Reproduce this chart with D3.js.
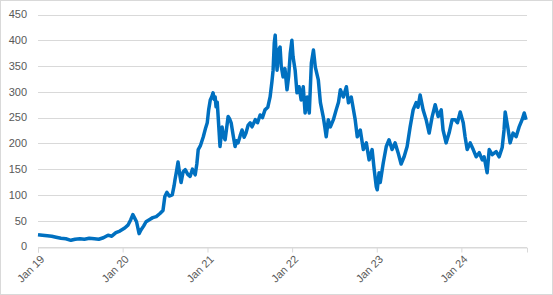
<!DOCTYPE html>
<html>
<head>
<meta charset="utf-8">
<script src="https://cdn.jsdelivr.net/npm/d3@7"></script>
<style>
  body { margin: 0; background: #fff; }
  svg { display: block; font-family: "Liberation Sans", Arial, sans-serif; }
</style>
</head>
<body>
<div id="chart"></div>
<script>
// observed series (date, value)
var dates = [
  "2019-01-01","2019-01-20","2019-02-10","2019-03-01","2019-03-20","2019-04-10","2019-05-01","2019-05-23",
  "2019-06-10","2019-07-01","2019-07-20","2019-08-10","2019-09-01","2019-09-20","2019-10-10","2019-10-30",
  "2019-11-15","2019-12-03","2019-12-20","2020-01-10","2020-01-25","2020-02-05","2020-02-14","2020-02-22",
  "2020-03-01","2020-03-12","2020-03-20","2020-04-01","2020-04-11","2020-04-25","2020-05-10","2020-05-25",
  "2020-06-10","2020-06-23","2020-07-01","2020-07-10","2020-07-20","2020-08-02","2020-08-10","2020-08-14",
  "2020-08-20","2020-08-27","2020-09-03","2020-09-09","2020-09-18","2020-09-27","2020-10-08","2020-10-18",
  "2020-10-28","2020-11-09","2020-11-16","2020-11-22","2020-12-01","2020-12-14","2020-12-24","2020-12-31",
  "2021-01-06","2021-01-13","2021-01-19","2021-01-25","2021-01-30","2021-02-03","2021-02-07","2021-02-12",
  "2021-02-16","2021-02-24","2021-03-05","2021-03-10","2021-03-18","2021-03-31","2021-04-06","2021-04-13",
  "2021-04-22","2021-04-30","2021-05-06","2021-05-13","2021-05-22","2021-05-30","2021-06-08","2021-06-16",
  "2021-06-25","2021-07-04","2021-07-12","2021-07-26","2021-08-05","2021-08-16","2021-08-26","2021-09-06",
  "2021-09-18","2021-09-28","2021-10-06","2021-10-11","2021-10-16","2021-10-20","2021-10-24","2021-10-28",
  "2021-11-03","2021-11-10","2021-11-15","2021-11-23","2021-12-01","2021-12-10","2021-12-17","2021-12-24",
  "2021-12-31","2022-01-05","2022-01-14","2022-01-22","2022-01-31","2022-02-09","2022-02-18","2022-02-26",
  "2022-03-07","2022-03-16","2022-03-25","2022-04-03","2022-04-11","2022-04-24","2022-05-03","2022-05-15",
  "2022-05-22","2022-05-28","2022-06-06","2022-06-15","2022-06-28","2022-07-10","2022-07-20","2022-07-28",
  "2022-08-10","2022-08-23","2022-09-01","2022-09-13","2022-09-30","2022-10-09","2022-10-22","2022-11-04",
  "2022-11-17","2022-11-29","2022-12-12","2022-12-21","2022-12-30","2023-01-03","2023-01-11","2023-01-16",
  "2023-01-29","2023-02-11","2023-02-23","2023-03-08","2023-03-21","2023-04-03","2023-04-16","2023-04-29",
  "2023-05-12","2023-05-25","2023-06-07","2023-06-20","2023-06-28","2023-07-07","2023-07-20","2023-08-02",
  "2023-08-15","2023-08-28","2023-09-10","2023-09-23","2023-10-06","2023-10-14","2023-10-27","2023-11-09",
  "2023-11-22","2023-12-05","2023-12-15","2023-12-27","2024-01-09","2024-01-17","2024-01-26","2024-02-08",
  "2024-02-21","2024-03-05","2024-03-18","2024-03-31","2024-04-08","2024-04-21","2024-04-30","2024-05-13",
  "2024-05-30","2024-06-12","2024-06-25","2024-07-03","2024-07-08","2024-07-21","2024-07-29","2024-08-11",
  "2024-08-24","2024-09-06","2024-09-19","2024-09-28","2024-10-06"
];
var values = [
  23,22,21,20,18,16,15,12,
  14,15,14,16,15,14,17,22,
  20,27,30,36,42,52,62,55,
  48,25,32,40,48,52,56,58,
  64,70,97,105,98,100,118,130,
  145,164,140,124,145,149,140,136,
  150,139,160,188,195,213,230,240,
  265,284,290,298,285,290,271,280,
  252,194,232,215,207,252,248,240,
  215,194,205,201,215,226,212,220,
  235,240,232,246,240,255,250,265,
  270,290,320,342,395,410,370,342,
  380,387,350,329,345,304,330,375,
  400,368,342,298,310,284,310,259,
  290,259,356,381,348,323,279,252,
  232,213,246,232,246,265,280,304,
  290,310,279,290,246,213,226,188,
  201,168,188,149,116,110,143,124,
  162,194,207,188,201,182,160,174,
  194,232,265,279,270,294,265,246,
  220,252,275,252,265,226,201,220,
  246,246,240,261,240,213,188,201,
  188,174,182,168,174,143,188,178,
  184,174,192,226,261,226,201,220,
  213,232,246,259,246
];
var yTicks = [0, 50, 100, 150, 200, 250, 300, 350, 400, 450];
var xTickLabels = ["Jan 19", "Jan 20", "Jan 21", "Jan 22", "Jan 23", "Jan 24"];

var width = 553, height = 295;
var margin = {top: 14.5, right: 26, bottom: 48.5, left: 38};

var parse = d3.timeParse("%Y-%m-%d");
var data = dates.map(function(d, i) { return {date: parse(d), value: values[i]}; });
var tickDates = xTickLabels.map(function(d, i) { return new Date(2019 + i, 0, 1); });

var svg = d3.select("#chart")
  .append("svg")
    .attr("width", width)
    .attr("height", height);

// chart border
svg.append("rect")
  .attr("x", 0.5).attr("y", 0.5)
  .attr("width", width - 1).attr("height", height - 1)
  .attr("fill", "#fff")
  .attr("stroke", "#d9d9d9");

var x = d3.scaleTime()
  .domain([new Date(2019, 0, 1), new Date(2024, 9, 10)])
  .range([margin.left, width - margin.right]);

var y = d3.scaleLinear()
  .domain([0, 450])
  .range([height - margin.bottom, margin.top]);

// gridlines
svg.append("g")
  .selectAll("line")
  .data(yTicks)
  .enter()
  .append("line")
    .attr("x1", margin.left)
    .attr("x2", width - margin.right)
    .attr("y1", function(d) { return Math.round(y(d)) + 0.5; })
    .attr("y2", function(d) { return Math.round(y(d)) + 0.5; })
    .style("stroke", "#d9d9d9");

// y labels
svg.append("g")
  .selectAll("text")
  .data(yTicks)
  .enter()
  .append("text")
    .attr("x", 27)
    .attr("y", function(d) { return y(d); })
    .attr("dy", "0.35em")
    .attr("text-anchor", "end")
    .style("fill", "#595959")
    .style("font-size", "11px")
    .text(function(d) { return d; });

// x axis
var xAxis = svg.append("g")
  .attr("transform", "translate(0," + (Math.round(y(0)) + 0.5) + ")")
  .call(d3.axisBottom(x)
    .tickValues(tickDates)
    .tickSize(5)
    .tickFormat(function(d, i) { return xTickLabels[i]; }));
xAxis.select(".domain").style("stroke", "#d9d9d9");
xAxis.selectAll(".tick line").style("stroke", "#d9d9d9");
xAxis.selectAll(".tick text")
  .attr("text-anchor", "end")
  .attr("transform", "translate(1,4) rotate(-45)")
  .attr("dy", "0.35em")
  .attr("y", 6)
  .attr("x", -2)
  .style("fill", "#595959")
  .style("font-size", "11px")
  .style("font-family", "'Liberation Sans', Arial, sans-serif");

// series line
var line = d3.line()
  .x(function(d) { return x(d.date); })
  .y(function(d) { return y(d.value); });

svg.append("path")
  .datum(data)
  .attr("d", line)
  .attr("fill", "none")
  .attr("stroke", "#0070c0")
  .attr("stroke-width", 3.5)
  .attr("stroke-linejoin", "round");
</script>
</body>
</html>
